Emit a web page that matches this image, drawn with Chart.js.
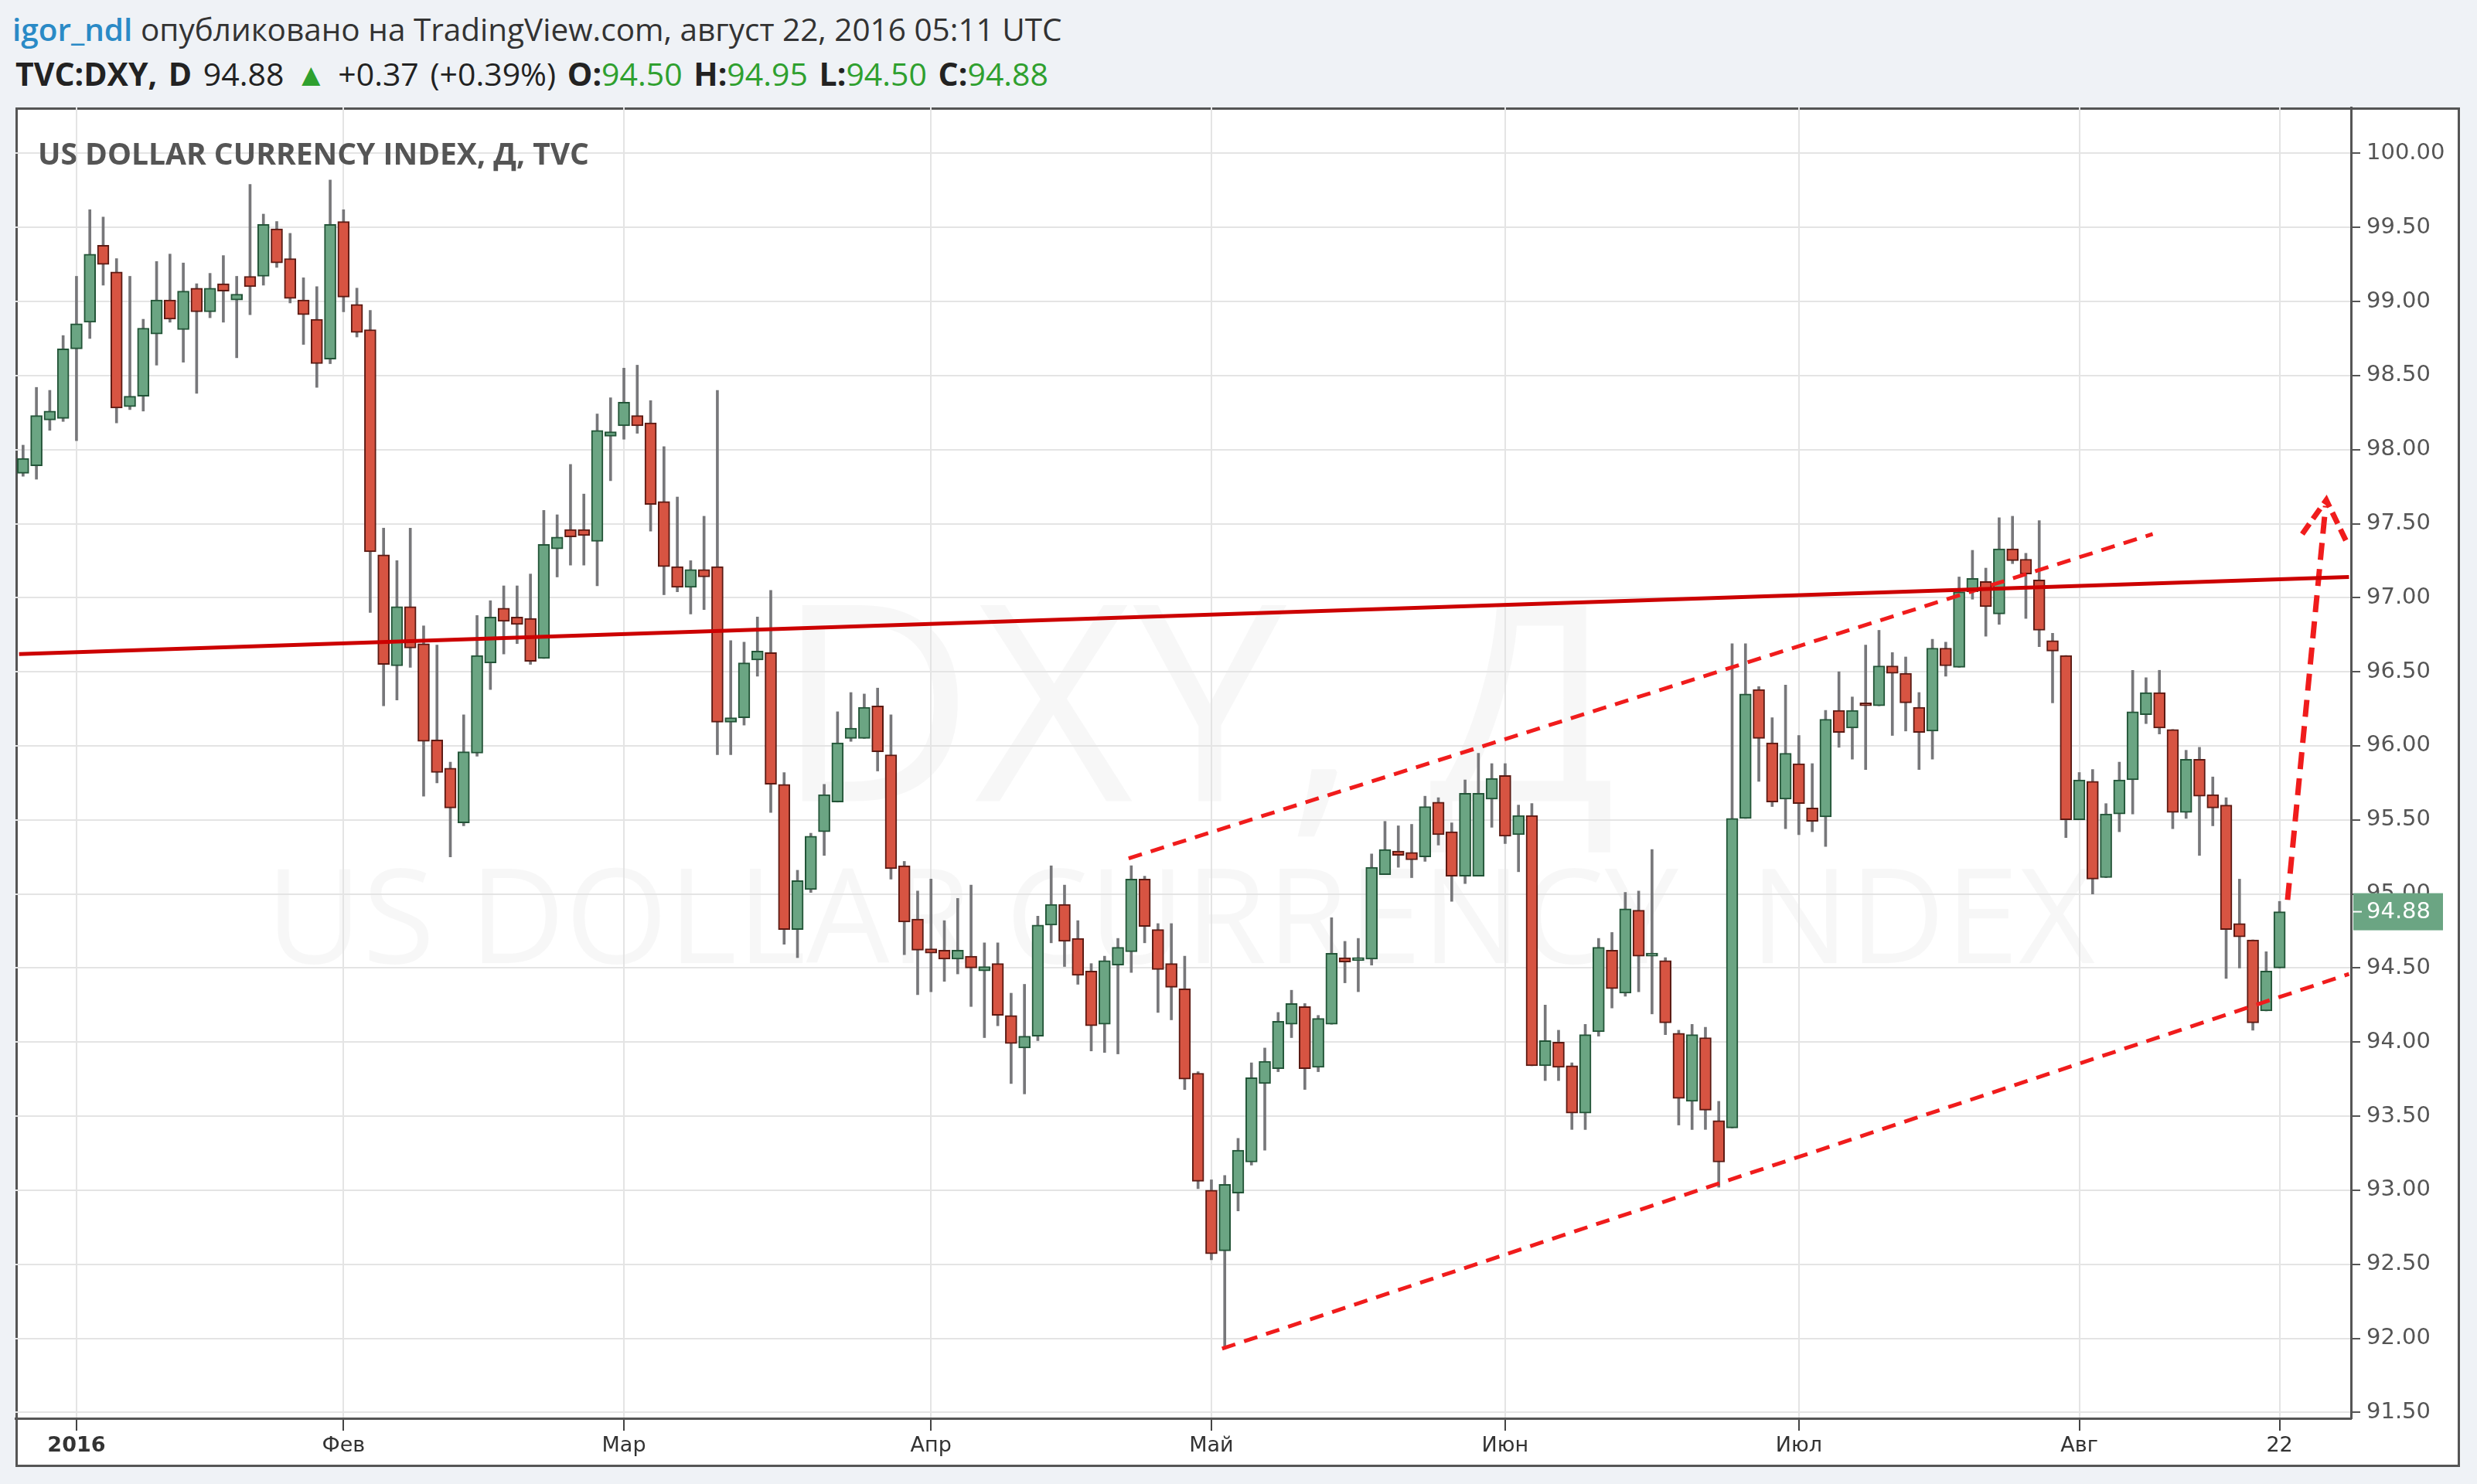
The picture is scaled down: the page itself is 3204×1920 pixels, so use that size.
<!DOCTYPE html>
<html>
<head>
<meta charset="utf-8">
<script src="https://cdn.jsdelivr.net/npm/chart.js@4/dist/chart.umd.min.js"></script>
<style>
body { margin:0; background:#eff2f6; width:3204px; height:1920px; overflow:hidden; font-family:"Open Sans", sans-serif; }
#hdr1 { position:absolute; left:16px; top:10px; font-size:40.5px; color:#333; white-space:nowrap; }
#hdr1 .user { color:#2a8ac6; font-weight:600; }
#hdr2 { position:absolute; left:20px; top:67px; font-size:41px; color:#222; white-space:nowrap; word-spacing:4px; }
#hdr2 b { font-weight:700; }
#hdr2 .g { color:#2fa02f; }
#box { position:absolute; left:20px; top:139px; width:3162px; height:1759px; box-sizing:border-box; border:3px solid #555; background:#fff; z-index:0; }
.wm { position:absolute; transform:translate(-50%,-50%); color:rgba(0,0,0,0.03); white-space:nowrap; z-index:1; font-family:"Open Sans", sans-serif; }
#wm1 { left:1547px; top:899px; font-size:355px; }
#wm2 { left:1527px; top:1179px; font-size:171px; }
#title { position:absolute; left:49px; top:171px; font-size:39px; font-weight:700; color:#555; z-index:3; white-space:nowrap; }
#c { position:absolute; left:0; top:0; z-index:2; }
</style>
</head>
<body>
<div id="hdr1"><span class="user">igor_ndl</span> опубликовано на TradingView.com, август 22, 2016 05:11 UTC</div>
<div id="hdr2"><b>TVC:DXY, D</b> 94.88 <span class="g">▲</span> +0.37 (+0.39%) <b>O:</b><span class="g">94.50</span> <b>H:</b><span class="g">94.95</span> <b>L:</b><span class="g">94.50</span> <b>C:</b><span class="g">94.88</span></div>
<div id="box"></div>
<div class="wm" id="wm1">DXY, Д</div>
<div class="wm" id="wm2">US DOLLAR CURRENCY INDEX</div>
<div id="title">US DOLLAR CURRENCY INDEX, Д, TVC</div>
<canvas id="c" width="3204" height="1920"></canvas>
<script>
// bar index 0 = 4 Jan 2016, first bar is 28 Dec 2015
var firstIdx = -4;
var opens = [
  97.84, 97.89, 98.20, 98.21, 98.68, 98.86, 99.38, 99.20, 98.29, 98.36,
  98.78, 99.01, 98.81, 99.09, 98.93, 99.12, 99.01, 99.17, 99.17, 99.49,
  99.29, 99.01, 98.88, 98.61, 99.54, 98.98, 98.81, 97.29, 96.54, 96.94,
  96.69, 96.04, 95.85, 95.48, 95.95, 96.56, 96.93, 96.87, 96.86, 96.59,
  97.33, 97.46, 97.46, 97.38, 98.09, 98.16, 98.23, 98.18, 97.65, 97.21,
  97.07, 97.19, 97.21, 96.16, 96.19, 96.58, 96.63, 95.74, 94.76, 95.03,
  95.42, 95.62, 96.05, 96.05, 96.27, 95.94, 95.19, 94.83, 94.63, 94.62,
  94.56, 94.58, 94.48, 94.53, 94.18, 93.96, 94.04, 94.79, 94.93, 94.70,
  94.48, 94.12, 94.52, 94.61, 95.10, 94.76, 94.53, 94.36, 93.79, 93.00,
  92.59, 92.98, 93.19, 93.72, 93.82, 94.12, 94.24, 93.83, 94.12, 94.57,
  94.55, 94.56, 95.13, 95.29, 95.28, 95.25, 95.62, 95.42, 95.12, 95.12,
  95.64, 95.80, 95.40, 95.53, 93.84, 94.00, 93.84, 93.52, 94.07, 94.62,
  94.33, 94.89, 94.58, 94.55, 94.06, 93.60, 94.03, 93.47, 93.42, 95.51,
  96.38, 96.02, 95.64, 95.88, 95.58, 95.52, 96.24, 96.12, 96.28, 96.27,
  96.54, 96.49, 96.26, 96.10, 96.66, 96.53, 97.04, 97.11, 96.89, 97.33,
  97.26, 97.12, 96.71, 96.61, 95.50, 95.76, 95.11, 95.54, 95.77, 96.21,
  96.36, 96.11, 95.55, 95.91, 95.67, 95.60, 94.80, 94.69, 94.21, 94.50
];
var highs = [
  98.03, 98.42, 98.40, 98.77, 99.17, 99.62, 99.57, 99.29, 99.17, 98.88,
  99.27, 99.32, 99.26, 99.12, 99.19, 99.31, 99.17, 99.79, 99.59, 99.54,
  99.46, 99.16, 99.10, 99.82, 99.62, 99.09, 98.94, 97.47, 97.25, 97.47,
  96.81, 96.68, 95.89, 96.21, 96.88, 96.98, 97.08, 97.08, 97.16, 97.59,
  97.56, 97.90, 97.70, 98.24, 98.35, 98.55, 98.57, 98.33, 98.02, 97.68,
  97.25, 97.55, 98.40, 96.71, 96.70, 96.87, 97.05, 95.82, 95.16, 95.41,
  95.74, 96.23, 96.36, 96.35, 96.39, 96.21, 95.22, 95.02, 95.10, 94.82,
  94.97, 95.06, 94.67, 94.67, 94.33, 94.39, 94.85, 95.19, 95.06, 94.82,
  94.53, 94.58, 94.70, 95.19, 95.12, 94.80, 94.80, 94.58, 93.80, 93.07,
  93.10, 93.35, 93.86, 93.96, 94.20, 94.35, 94.26, 94.18, 94.84, 94.68,
  94.70, 95.27, 95.49, 95.46, 95.47, 95.66, 95.65, 95.48, 95.77, 95.95,
  95.88, 95.88, 95.60, 95.61, 94.25, 94.08, 93.86, 94.12, 94.70, 94.74,
  95.01, 95.02, 95.30, 94.57, 94.08, 94.12, 94.10, 93.60, 96.69, 96.69,
  96.40, 96.19, 96.41, 96.07, 95.88, 96.24, 96.50, 96.33, 96.68, 96.78,
  96.63, 96.60, 96.36, 96.72, 96.70, 97.14, 97.32, 97.20, 97.54, 97.55,
  97.30, 97.52, 96.76, 96.61, 95.82, 95.84, 95.61, 95.89, 96.51, 96.46,
  96.51, 96.11, 95.97, 95.99, 95.79, 95.65, 95.10, 94.69, 94.61, 94.95
];
var lows = [
  97.82, 97.80, 98.13, 98.19, 98.06, 98.75, 99.11, 98.18, 98.27, 98.26,
  98.57, 98.86, 98.59, 98.38, 98.89, 98.86, 98.62, 98.91, 99.11, 99.23,
  98.99, 98.71, 98.42, 98.58, 98.93, 98.76, 96.90, 96.27, 96.31, 96.53,
  95.66, 95.75, 95.25, 95.46, 95.93, 96.38, 96.62, 96.69, 96.55, 96.59,
  97.14, 97.22, 97.22, 97.08, 97.79, 98.07, 98.11, 97.45, 97.02, 97.04,
  96.89, 96.92, 95.94, 95.94, 96.14, 96.47, 95.55, 94.66, 94.57, 95.01,
  95.26, 95.62, 96.03, 96.05, 95.83, 95.10, 94.59, 94.32, 94.34, 94.41,
  94.46, 94.24, 94.03, 94.11, 93.72, 93.65, 94.01, 94.67, 94.51, 94.39,
  93.94, 93.93, 93.92, 94.47, 94.67, 94.20, 94.15, 93.68, 93.01, 92.53,
  91.93, 92.86, 93.17, 93.27, 93.80, 94.03, 93.68, 93.80, 94.12, 94.40,
  94.34, 94.52, 95.13, 95.18, 95.11, 95.22, 95.33, 94.95, 95.07, 95.12,
  95.45, 95.34, 95.15, 93.84, 93.74, 93.74, 93.41, 93.41, 94.04, 94.23,
  94.31, 94.34, 94.19, 94.05, 93.44, 93.41, 93.41, 93.02, 93.42, 95.51,
  95.76, 95.59, 95.44, 95.40, 95.42, 95.32, 95.99, 95.91, 95.84, 96.27,
  96.07, 96.10, 95.84, 95.91, 96.47, 96.53, 96.99, 96.74, 96.82, 97.23,
  96.86, 96.67, 96.29, 95.38, 95.50, 95.00, 95.11, 95.42, 95.54, 96.15,
  96.08, 95.44, 95.51, 95.26, 95.46, 94.43, 94.50, 94.08, 94.21, 94.50
];
var closes = [
  97.94, 98.23, 98.26, 98.68, 98.85, 99.32, 99.25, 98.28, 98.36, 98.82,
  99.01, 98.88, 99.07, 98.93, 99.09, 99.07, 99.05, 99.10, 99.52, 99.26,
  99.02, 98.91, 98.58, 99.52, 99.03, 98.79, 97.31, 96.55, 96.94, 96.66,
  96.03, 95.82, 95.58, 95.96, 96.61, 96.87, 96.84, 96.82, 96.57, 97.36,
  97.41, 97.41, 97.42, 98.13, 98.12, 98.32, 98.16, 97.63, 97.21, 97.07,
  97.19, 97.14, 96.16, 96.19, 96.56, 96.64, 95.74, 94.76, 95.09, 95.39,
  95.67, 96.02, 96.12, 96.26, 95.96, 95.17, 94.81, 94.62, 94.60, 94.56,
  94.62, 94.50, 94.51, 94.18, 93.99, 94.04, 94.79, 94.93, 94.68, 94.45,
  94.11, 94.55, 94.64, 95.10, 94.78, 94.49, 94.37, 93.75, 93.06, 92.57,
  93.04, 93.27, 93.76, 93.87, 94.14, 94.26, 93.82, 94.16, 94.60, 94.54,
  94.56, 95.18, 95.30, 95.26, 95.23, 95.59, 95.40, 95.12, 95.68, 95.68,
  95.78, 95.39, 95.53, 93.84, 94.01, 93.83, 93.52, 94.05, 94.64, 94.36,
  94.90, 94.58, 94.59, 94.13, 93.62, 94.05, 93.54, 93.19, 95.51, 96.35,
  96.05, 95.62, 95.95, 95.61, 95.49, 96.18, 96.09, 96.24, 96.27, 96.54,
  96.49, 96.29, 96.09, 96.66, 96.54, 97.04, 97.13, 96.94, 97.33, 97.25,
  97.16, 96.78, 96.64, 95.50, 95.77, 95.10, 95.54, 95.77, 96.23, 96.36,
  96.12, 95.55, 95.91, 95.66, 95.58, 94.76, 94.71, 94.13, 94.48, 94.88
];
// month ticks on the time axis (bar index)
var tickIdx = [0, 20, 41, 64, 85, 107, 129, 150, 165];
var tickText = ["2016", "Фев", "Мар", "Апр", "Май", "Июн", "Июл", "Авг", "22"];
// drawn lines, [bar index, price]
var resistLine = [[-4.3, 96.62], [170.2, 97.14]];
var upperChannel = [[78.8, 95.24], [155.5, 97.43]];
var lowerChannel = [[85.8, 91.93], [170.2, 94.46]];
var arrowShaft = [[165.6, 94.96], [168.45, 97.62]];
var arrowHead = [[166.7, 97.43], [168.5, 97.66], [170.0, 97.38]];

var upFill = "#6ba583", upLine = "#225437";
var dnFill = "#d75442", dnLine = "#5b1a13";

function toPts(arr) {
  return arr.map(function (p) { return { x: p[0], y: p[1] }; });
}

var wicks = [], bodies = [], fills = [], borders = [];
for (var k = 0; k < opens.length; k++) {
  var x = firstIdx + k;
  var up = closes[k] >= opens[k];
  wicks.push({ x: x, y: [lows[k], highs[k]] });
  bodies.push({ x: x, y: [opens[k], closes[k]] });
  fills.push(up ? upFill : dnFill);
  borders.push(up ? upLine : dnLine);
}

var lastPrice = {
  id: "lastPrice",
  afterDraw: function (chart) {
    var ctx = chart.ctx, ys = chart.scales.y, area = chart.chartArea;
    var v = closes[closes.length - 1];
    var y = ys.getPixelForValue(v);
    ctx.save();
    ctx.fillStyle = upFill;
    ctx.fillRect(area.right + 3, y - 24, 116, 48);
    ctx.strokeStyle = "#fff";
    ctx.lineWidth = 2;
    ctx.beginPath();
    ctx.moveTo(area.right + 2, y);
    ctx.lineTo(area.right + 14, y);
    ctx.stroke();
    ctx.fillStyle = "#fff";
    ctx.font = "29px 'DejaVu Sans'";
    ctx.textBaseline = "middle";
    ctx.fillText(v.toFixed(2), area.right + 20, y + 1);
    ctx.restore();
  }
};

new Chart(document.getElementById("c"), {
  type: "bar",
  data: {
    datasets: [
      { type: "line", data: toPts(resistLine), borderColor: "#cc0000", borderWidth: 5, pointRadius: 0, order: 0 },
      { type: "line", data: toPts(upperChannel), borderColor: "#f01c1c", borderWidth: 5, borderDash: [18, 12], pointRadius: 0, order: 0 },
      { type: "line", data: toPts(lowerChannel), borderColor: "#f01c1c", borderWidth: 5, borderDash: [18, 12], pointRadius: 0, order: 0 },
      { type: "line", data: toPts(arrowShaft), borderColor: "#f01c1c", borderWidth: 7, borderDash: [22, 12], pointRadius: 0, order: 0 },
      { type: "line", data: toPts(arrowHead), borderColor: "#f01c1c", borderWidth: 7, borderDash: [16, 8], pointRadius: 0, order: 0 },
      { data: bodies, backgroundColor: fills, borderColor: borders, borderWidth: 2, borderSkipped: false,
        barThickness: 15, minBarLength: 4, grouped: false, order: 1 },
      { data: wicks, backgroundColor: "#77777a", borderWidth: 0, barThickness: 3, grouped: false, order: 2 }
    ]
  },
  options: {
    responsive: false,
    animation: false,
    devicePixelRatio: 1,
    layout: { padding: { left: 20, top: 139, right: 22, bottom: 22 } },
    plugins: { legend: { display: false }, tooltip: { enabled: false } },
    scales: {
      x: {
        type: "linear",
        offset: false,
        min: -4.57,
        max: 170.35,
        afterBuildTicks: function (scale) {
          scale.ticks = tickIdx.map(function (v) { return { value: v }; });
        },
        afterFit: function (scale) { scale.height = 63; },
        grid: { color: "#e4e4e4", lineWidth: 2, tickLength: 16, tickColor: "#444", tickWidth: 2, offset: false },
        border: { color: "#555", width: 3 },
        ticks: {
          autoSkip: false,
          maxRotation: 0,
          padding: 4,
          color: "#333",
          font: function (c) {
            return { family: "'DejaVu Sans'", size: 27, weight: c.tick && c.tick.value === 0 ? "bold" : "normal" };
          },
          callback: function (v) { return tickText[tickIdx.indexOf(v)]; }
        }
      },
      y: {
        position: "right",
        min: 91.46,
        max: 100.31,
        afterFit: function (scale) { scale.width = 141; },
        grid: { color: "#e4e4e4", lineWidth: 2, tickLength: 12, tickColor: "#555", tickWidth: 2 },
        border: { color: "#555", width: 3 },
        ticks: {
          stepSize: 0.5,
          includeBounds: false,
          padding: 8,
          color: "#555",
          font: { family: "'DejaVu Sans'", size: 29 },
          callback: function (v) { return v.toFixed(2); }
        }
      }
    }
  },
  plugins: [lastPrice]
});
</script>
</body>
</html>
